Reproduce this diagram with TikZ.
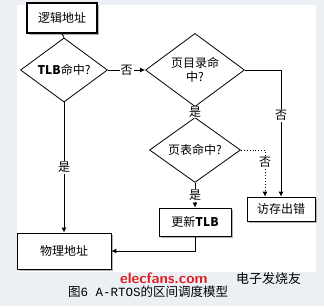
\documentclass[tikz,border=0pt]{standalone}
\usepackage{fontspec}
\setmainfont{Liberation Serif}
\newfontfamily\cjk{Noto Sans CJK SC}
\newfontfamily\monof{Liberation Mono}
\usetikzlibrary{shapes.geometric,arrows.meta,shadows}
\definecolor{bgcol}{RGB}{236,240,245}
\definecolor{wmred}{RGB}{220,30,30}
\tikzset{
  box/.style={draw=black, line width=0.8pt, fill=white, inner sep=0pt, font=\cjk\fontsize{12}{14}\selectfont,
    drop shadow={shadow xshift=2pt, shadow yshift=-2pt, fill=gray!60, opacity=1}},
  dia/.style={diamond, draw=black, line width=0.8pt, fill=white, inner sep=0pt, align=center,
    font=\cjk\fontsize{12}{14}\selectfont},
  conn/.style={line width=0.9pt},
  arr/.style={conn, -{Latex[length=5pt,width=5pt]}},
  lab/.style={fill=white, inner sep=1pt, font=\cjk\fontsize{12}{14}\selectfont}
}
\begin{document}
\begin{tikzpicture}[x=1pt,y=-1pt]
\useasboundingbox (0,0) rectangle (324,306);
\fill[bgcol] (0,0) rectangle (324,306);
\fill[white] (17,5) rectangle (316,272);
% nodes
\node[box, minimum width=70pt, minimum height=30pt, line width=1.4pt] (logic) at (62,18) {逻辑地址};
\node[dia, minimum width=87pt, minimum height=53pt] (tlb) at (64,70) {\textbf{TLB}命中?};
\node[dia, minimum width=99pt, minimum height=55pt] (dir) at (195,70) {页目录命\\中?};
\node[dia, minimum width=91pt, minimum height=50pt] (pt) at (195,150) {页表命中?};
\node[box, minimum width=68pt, minimum height=24pt] (fault) at (281,209) {访存出错};
\node[box, minimum width=72pt, minimum height=28pt] (upd) at (195,222) {更新\textbf{TLB}};
\node[box, minimum width=94pt, minimum height=36pt] (phys) at (64,251) {物理地址};
% connectors
\draw[conn] (logic.south) -- (tlb.north);
\draw[arr] (tlb.east) -- node[lab] (n1) {否} (dir.west);
\draw[arr] (dir.east) -| node[lab, pos=0.68] (n2) {否} (fault.north);
\draw[arr] (dir.south) -- node[lab] (y1) {是} (pt.north);
\draw[arr, dotted] (pt.east) -| node[lab, pos=0.63] (n3) {否} ([xshift=-16pt]fault.north);
\draw[arr] (pt.south) -- node[lab] (y2) {是} (upd.north);
\draw[arr] (upd.south) |- (phys.east);
\draw[arr] (tlb.south) -- node[lab] (y3) {是} (phys.north);
% caption
\node[anchor=west, inner sep=0pt, font=\fontsize{12.5}{14}\selectfont] (cap) at (68,292) {{\cjk 图}{\monof 6 A-RTOS}{\cjk 的区间调度模型}};
\node[anchor=west, inner sep=0pt, text=wmred, font=\fontfamily{}\sffamily\bfseries\fontsize{15}{16}\selectfont] (wm1) at (120,278) {elecfans.com};
\node[anchor=west, inner sep=0pt, font=\cjk\fontsize{13}{14}\selectfont] (wm2) at (236,279) {电子发烧友};
\end{tikzpicture}
\end{document}
